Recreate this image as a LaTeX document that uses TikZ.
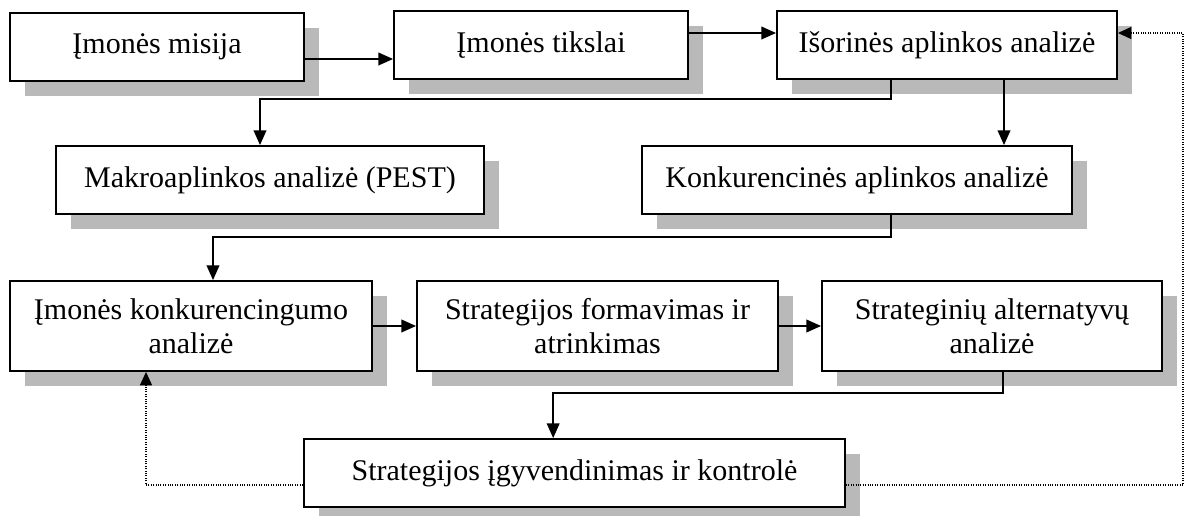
\documentclass[tikz,border=0pt]{standalone}
\usepackage{fontspec}
\setmainfont{Liberation Serif}
\usepackage{tikz}
\usetikzlibrary{arrows.meta,shadows}

\tikzset{
  shade box/.style={general shadow={shadow xshift=11.25pt, shadow yshift=-11.25pt, fill=gray!55}},
  box/.style={draw, line width=1.4pt, fill=white, align=center, inner sep=0pt,
      font=\fontsize{22.5}{25.5}\selectfont, shade box},
  arr/.style={line width=1.2pt, -{Triangle[length=11pt,width=9.5pt]}},
  back/.style={line width=0.8pt, densely dotted, -{Triangle[length=10pt,width=9pt]}}
}

\begin{document}
\begin{tikzpicture}[x=0.75pt,y=-0.75pt]
  \useasboundingbox (0,0) rectangle (1185,516);
  \node[box, minimum width=220.5pt, minimum height=51pt] (misija) at (157,47) {Įmonės misija};
  \node[box, minimum width=220.5pt, minimum height=51pt] (tikslai) at (541,45) {Įmonės tikslai};
  \node[box, minimum width=255pt, minimum height=51pt] (isorine) at (947,45) {Išorinės aplinkos analizė};
  \node[box, minimum width=321pt, minimum height=51pt] (makro) at (270,180) {Makroaplinkos analizė (PEST)};
  \node[box, minimum width=322.5pt, minimum height=51pt] (konk) at (857,180) {Konkurencinės aplinkos analizė};
  \node[box, minimum width=271.5pt, minimum height=67.5pt] (imkonk) at (191,326) {Įmonės konkurencingumo\\analizė};
  \node[box, minimum width=270.75pt, minimum height=67.5pt] (formav) at (597.5,326) {Strategijos formavimas ir\\atrinkimas};
  \node[box, minimum width=255pt, minimum height=67.5pt] (altern) at (992,326) {Strateginių alternatyvų\\analizė};
  \node[box, minimum width=405.75pt, minimum height=51pt] (igyv) at (574.5,473) {Strategijos įgyvendinimas ir kontrolė};

  \draw[arr] ([yshift=-9pt]misija.east) -- ([yshift=-9pt]misija.east -| tikslai.west);
  \draw[arr] ([yshift=9pt]tikslai.east) -- ([yshift=9pt]tikslai.east -| isorine.west);
  \draw[arr] ([xshift=-42pt]isorine.south) |- ([xshift=-7.5pt,yshift=34.5pt]makro.north) -- ([xshift=-7.5pt]makro.north);
  \draw[arr] ([xshift=42.75pt]isorine.south) -- ([xshift=42.75pt]isorine.south |- konk.north);
  \draw[arr] ([xshift=25.5pt]konk.south) |- ([xshift=16.5pt,yshift=32.25pt]imkonk.north) -- ([xshift=16.5pt]imkonk.north);
  \draw[arr] (imkonk.east) -- (formav.west);
  \draw[arr] (formav.east) -- (altern.west);
  \draw[arr] ([xshift=8.25pt]altern.south) |- ([xshift=-16pt,yshift=33.75pt]igyv.north) -- ([xshift=-16pt]igyv.north);
  \draw[back] ([yshift=-9pt]igyv.east) -| (1183,33) -- ([yshift=9pt]isorine.east);
  \draw[back] ([yshift=-9pt]igyv.west) -| ([xshift=-33.75pt]imkonk.south);
\end{tikzpicture}
\end{document}
